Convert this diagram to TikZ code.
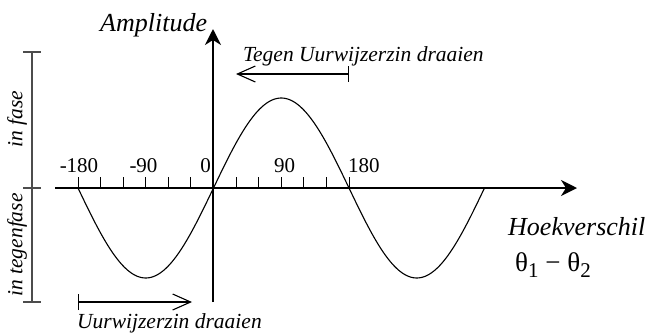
\documentclass[tikz,border=0pt]{standalone}
\usepackage{fontspec}
\setmainfont{Liberation Serif}
\usetikzlibrary{arrows.meta}
\begin{document}
\begin{tikzpicture}[x=1pt,y=-1pt,
  axisline/.style={line width=1.6pt,-{Stealth[length=16pt,width=16pt,inset=5pt]}},
  curveline/.style={line width=1.1pt},
  tickline/.style={line width=0.9pt},
  scalebar/.style={line width=2pt,draw=black!70},
  rotarrow/.style={line width=1.1pt,{Bar[width=16pt]}-{Straight Barb[length=18pt,width=16pt]}},
  big/.style={font=\fontsize{26}{28}\selectfont\itshape,inner sep=0pt},
  small/.style={font=\fontsize{21.5}{24}\selectfont\itshape,inner sep=0pt},
  num/.style={font=\fontsize{21}{24}\selectfont,inner sep=0pt}]
\useasboundingbox (0,0) rectangle (649,333);
% coordinates
\coordinate (xs) at (55,188);
\coordinate (xe) at (577,188);
\coordinate (ys) at (213,302);
\coordinate (ye) at (213,29);
% sine curve
\draw[curveline] plot[domain=-180:360,samples=200,smooth] ({213.5+\x*0.7528},{188-90*sin(\x)});
% ticks
\foreach \k in {-6,...,6} \draw[tickline] ({213.5+\k*22.58},188) -- ({213.5+\k*22.58},177);
% axes
\draw[axisline] (xs) -- (xe);
\draw[axisline] (ys) -- (ye);
% left scale
\coordinate (sb) at (32,52);
\coordinate (sm) at (32,188);
\coordinate (se) at (32,302);
\draw[scalebar] (sb) -- (se);
\foreach \yy in {52,188,302} \draw[scalebar] (23,\yy) -- (41,\yy);
\node[small,rotate=90] (infase) at (17,119) {in fase};
\node[small,rotate=90] (integen) at (17,245) {in tegenfase};
% labels
\node[big,anchor=base west] (amp) at (100,31) {Amplitude};
\node[big,anchor=base west] (hoek) at (508,235) {Hoekverschil};
\node[inner sep=0pt,anchor=base west,font=\fontsize{27}{30}\selectfont] (theta) at (515,271) {θ\raisebox{-6pt}{\fontsize{21}{23}\selectfont 1} − θ\raisebox{-6pt}{\fontsize{21}{23}\selectfont 2}};
% numbers
\node[num,anchor=base] (n1) at (79,172.5) {-180};
\node[num,anchor=base] (n2) at (143.5,172.5) {-90};
\node[num,anchor=base] (n3) at (205.5,172.5) {0};
\node[num,anchor=base west] (n4) at (274,172.5) {90};
\node[num,anchor=base west] (n5) at (348,172.5) {180};
% rotation arrows
\coordinate (ta) at (349,74);
\coordinate (tb) at (236,74);
\draw[rotarrow] (ta) -- (tb);
\node[small,anchor=base west] (tegen) at (243,61) {Tegen Uurwijzerzin draaien};
\coordinate (ba) at (78,302);
\coordinate (bb) at (192,302);
\draw[rotarrow] (ba) -- (bb);
\node[small,anchor=base west] (uur) at (77,328) {Uurwijzerzin draaien};
\end{tikzpicture}
\end{document}
